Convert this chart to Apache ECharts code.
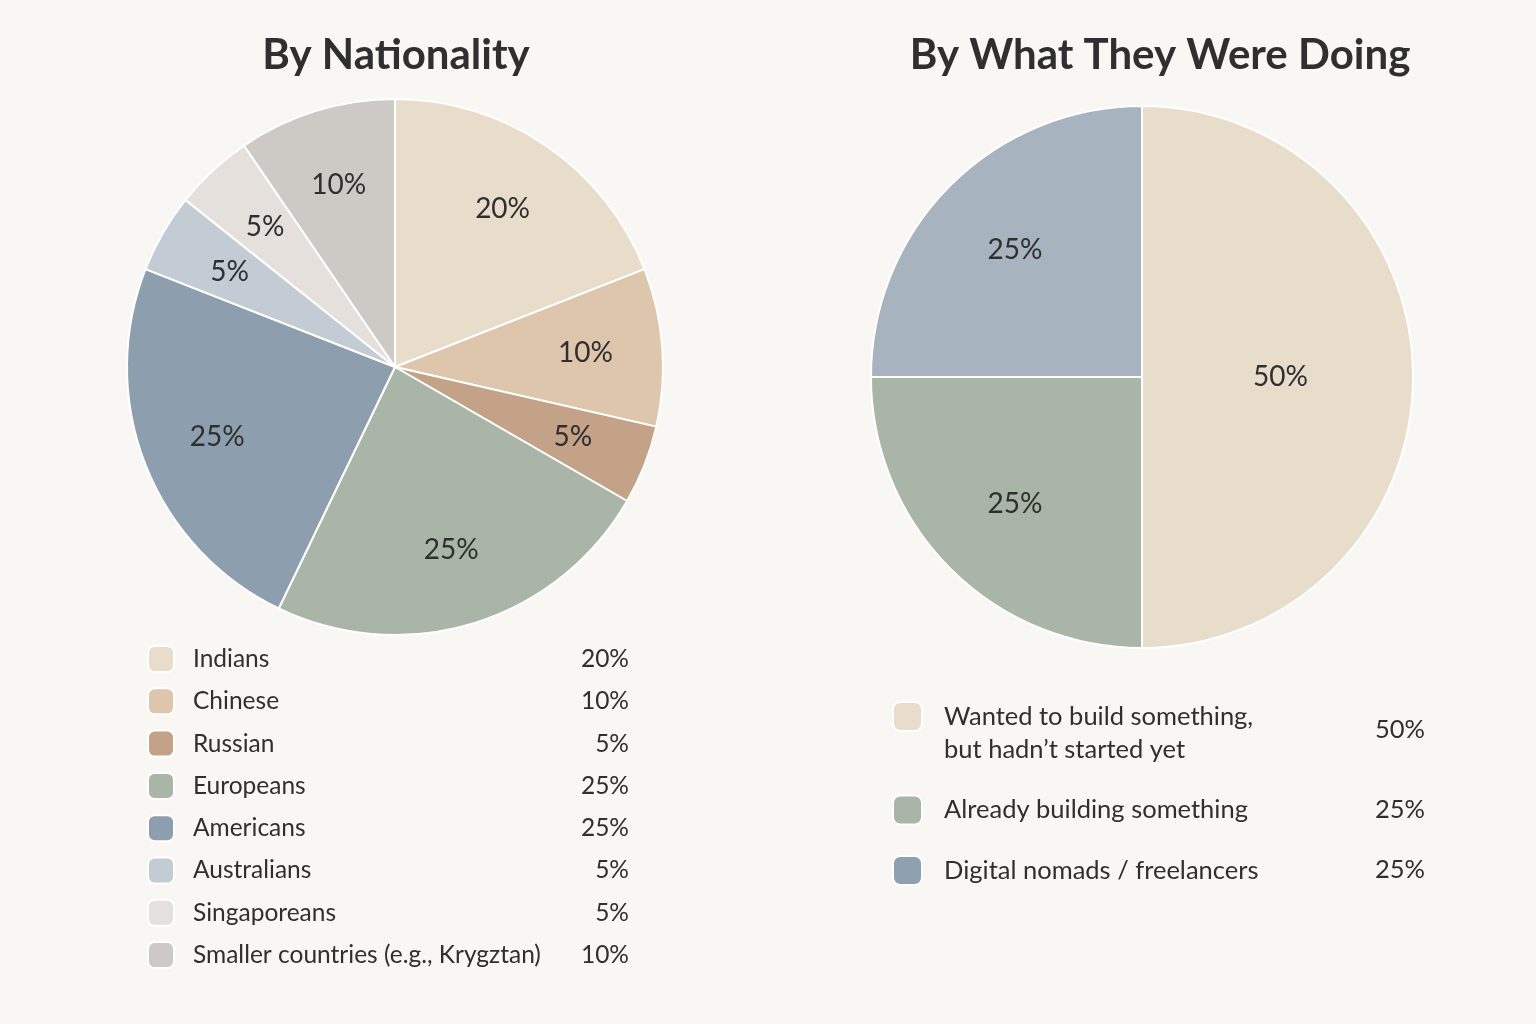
<!DOCTYPE html>
<html>
<head>
<meta charset="utf-8">
<script src="https://cdn.jsdelivr.net/npm/echarts@6/dist/echarts.min.js"></script>
<style>
html,body{margin:0;padding:0;background:#F8F7F4;}
#chart{width:1536px;height:1024px;}
</style>
</head>
<body>
<div id="chart"></div>
<script>
// ---- data ----
const natTitle = 'By Nationality';
const natNames = ['Indians','Chinese','Russian','Europeans','Americans','Australians','Singaporeans','Smaller countries (e.g., Krygztan)'];
const natValues = [20,10,5,25,25,5,5,10];
const natColors = ['#E8DCCA','#DDC6AC','#C4A287','#A9B5A6','#8D9FAF','#C3CCD5','#E5E0DB','#CDCAC6'];

const doTitle = 'By What They Were Doing';
const doNames = ['Wanted to build something,\nbut hadn\u2019t started yet','Already building something','Digital nomads / freelancers'];
const doValues = [50,25,25];
const doColors = ['#E8DCCA','#A9B5A6','#A7B3BE'];
const doLegendColors = ['#E8DCCA','#A9B5A6','#8FA1B1'];

const FONT = 'Lato, "Noto Sans", sans-serif';
const TXT = '#2F2F2F';

const chart = echarts.init(document.getElementById('chart'), null, {renderer:'canvas'});

const natData = natNames.map((n,i)=>({name:n, value:natValues[i], itemStyle:{color:natColors[i]}}));
const natLabelData = natNames.map((n,i)=>({name:n, value:natValues[i]}));
const doData = doNames.map((n,i)=>({name:n, value:doValues[i], itemStyle:{color:doColors[i]},
  label:{show: i===0}}));
const doLabelData = doNames.map((n,i)=>({name:n, value:doValues[i], label:{show: i!==0}}));

const labelStyle = {fontFamily:FONT, fontSize:28, color:TXT, formatter:'{c}%'};

const option = {
  backgroundColor:'#F8F7F4',
  animation:false,
  title:[
    {text:natTitle, left:396, top:34, textAlign:'center', padding:0,
     textStyle:{fontFamily:FONT, fontWeight:'bold', fontSize:42, color:TXT}},
    {text:doTitle, left:1160, top:34, textAlign:'center', padding:0,
     textStyle:{fontFamily:FONT, fontWeight:'bold', fontSize:42, color:TXT}}
  ],
  legend:[
    {
      orient:'vertical', left:147, top:645, itemWidth:26, itemHeight:26, itemGap:14.3,
      icon:'roundRect', selectedMode:false, padding:0,
      data: natNames.map((n,i)=>({name:n, itemStyle:{color:natColors[i]}})),
      formatter: name => '{n|' + name + '}{v|' + natValues[natNames.indexOf(name)] + '%}',
      textStyle:{fontFamily:FONT, fontSize:24.5, color:TXT, lineHeight:26,
        rich:{n:{fontFamily:FONT, fontSize:24.5, color:TXT, lineHeight:26, width:386, padding:[0,0,0,14]},
              v:{fontFamily:FONT, fontSize:24.5, color:TXT, lineHeight:26, width:50, align:'right'}}}
    },
    {
      orient:'vertical', left:892, top:667, itemWidth:29, itemHeight:29, itemGap:27.5,
      icon:'roundRect', selectedMode:false, padding:0,
      data: doNames.map((n,i)=>({name:n, itemStyle:{color:doLegendColors[i]}})),
      formatter: name => (name.indexOf('\n') >= 0 ? '{e| }\n' : '') +
        name.split('\n').map(s => '{n|' + s + '}').join('\n'),
      textStyle:{fontFamily:FONT, fontSize:25.5, color:TXT, lineHeight:33, padding:[0,0,0,17],
        rich:{n:{fontFamily:FONT, fontSize:25.5, color:TXT, lineHeight:33},
              e:{fontSize:25.5, lineHeight:33}}}
    }
  ],
  graphic: doValues.map((v,i)=>({
    type:'text', x:1425, y:[730,810,870][i],
    style:{text:v+'%', font:'25.5px ' + FONT, fill:TXT, align:'right', verticalAlign:'middle',
           textAlign:'right', textVerticalAlign:'middle'}
  })),
  series:[
    {
      type:'pie', center:[395,367], radius:268, startAngle:90, clockwise:true,
      silent:true, label:{show:false}, labelLine:{show:false},
      itemStyle:{borderColor:'#FFFFFF', borderWidth:2},
      data:natData
    },
    {
      type:'pie', center:[395,367], radius:[108,268], startAngle:90, clockwise:true,
      silent:true, legendHoverLink:false,
      itemStyle:{color:'rgba(0,0,0,0)', borderWidth:0},
      label:Object.assign({show:true, position:'inside'}, labelStyle), labelLine:{show:false},
      data:natLabelData
    },
    {
      type:'pie', center:[1142,377], radius:271, startAngle:90, clockwise:true,
      silent:true,
      label:Object.assign({position:'inside'}, labelStyle), labelLine:{show:false},
      itemStyle:{borderColor:'#FFFFFF', borderWidth:2},
      data:doData
    },
    {
      type:'pie', center:[1142,377], radius:[82,271], startAngle:90, clockwise:true,
      silent:true, legendHoverLink:false,
      itemStyle:{color:'rgba(0,0,0,0)', borderWidth:0},
      label:Object.assign({position:'inside'}, labelStyle), labelLine:{show:false},
      data:doLabelData
    }
  ]
};
chart.setOption(option);
</script>
</body>
</html>
